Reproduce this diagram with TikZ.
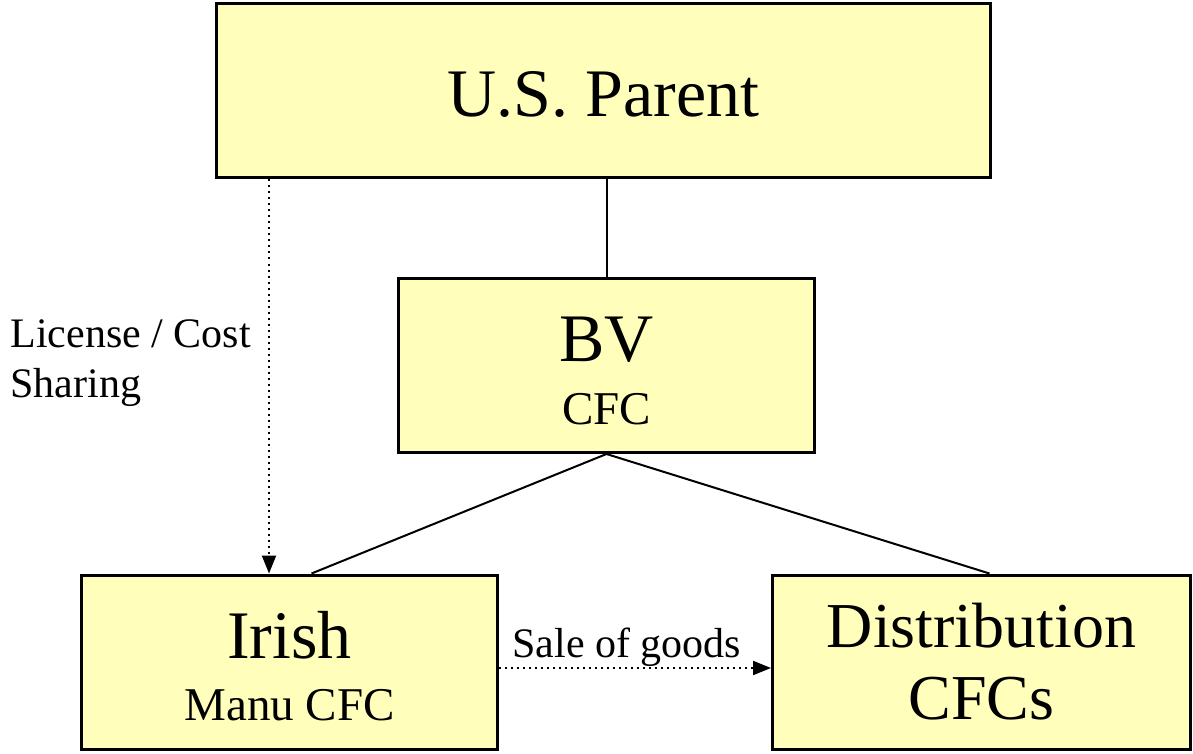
\documentclass[tikz,border=0pt]{standalone}
\usepackage{fontspec}
\setmainfont{Liberation Serif}
\usetikzlibrary{arrows.meta}
\definecolor{boxyellow}{RGB}{255,255,187}
\begin{document}
\begin{tikzpicture}[x=0.5pt, y=-0.5pt,
    entity/.style = {draw, line width=1.5pt, fill=boxyellow, align=center, inner sep=0, minimum height=87pt},
    link/.style   = {line width=1pt},
    flow/.style   = {line width=1pt, dotted, -{Triangle[length=9pt, width=7pt]}}]
    \useasboundingbox (0,0) rectangle (1193,754);

    \node[entity, minimum width=387pt, font=\fontsize{34}{40}\selectfont, text height=26pt] (us) at (603.5,91) {U.S. Parent};
    \node[entity, minimum width=208pt, font=\fontsize{23.5}{31.5}\selectfont, text height=59pt] (bv) at (606.5,365.5) {{\fontsize{34}{31.5}\selectfont BV}\\CFC};
    \node[entity, minimum width=208pt, font=\fontsize{23.5}{31}\selectfont, text height=59pt] (irish) at (289.5,662) {{\fontsize{34}{31}\selectfont Irish}\\Manu CFC};
    \node[entity, minimum width=209pt, font=\fontsize{32}{36}\selectfont] (dist) at (981.5,662) {Distribution\\CFCs};

    \draw[link] (us.south -| bv.north) -- (bv.north);
    \draw[link] (bv.south) -- ([xshift=11pt]irish.north);
    \draw[link] (bv.south) -- ([xshift=4pt]dist.north);

    % license / cost sharing
    \draw[flow] ([xshift=27pt]us.south west) -- ([xshift=27pt]us.south west |- irish.north);
    \node[anchor=west, align=left, inner sep=0, font=\fontsize{21}{25}\selectfont] (lic) at (10,363) {License / Cost\\Sharing};

    % sale of goods
    \draw[flow] ([yshift=-3pt]irish.east) -- node[above, pos=0.47, inner sep=0, font=\fontsize{21}{25}\selectfont] (sale) {Sale of goods} ([yshift=-3pt]dist.west);
\end{tikzpicture}
\end{document}
